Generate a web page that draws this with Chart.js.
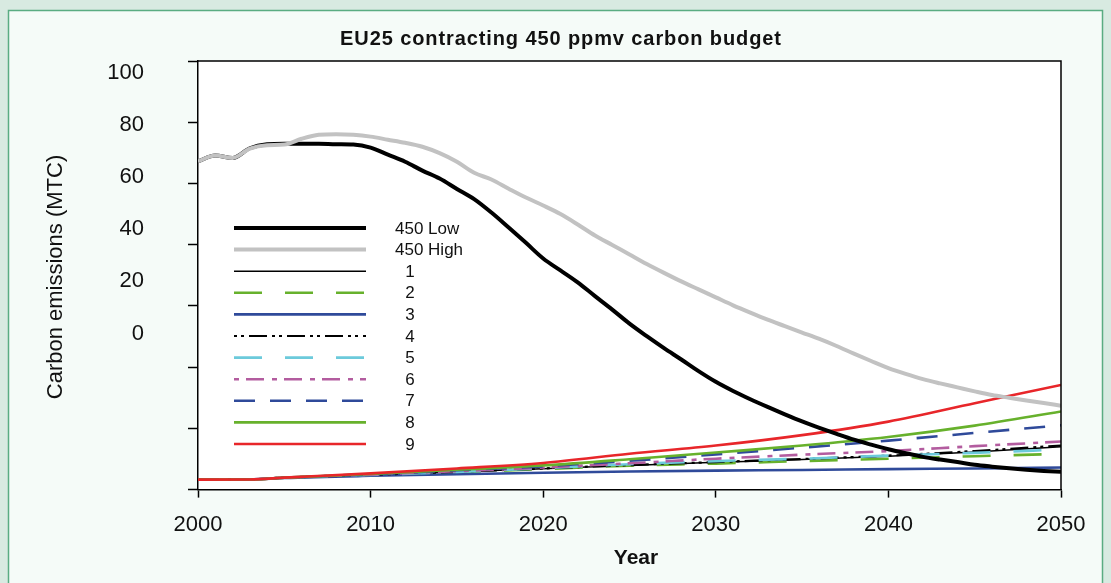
<!DOCTYPE html>
<html>
<head>
<meta charset="utf-8">
<script src="https://cdn.jsdelivr.net/npm/chart.js@4/dist/chart.umd.min.js"></script>
<style>
  html, body { margin: 0; padding: 0; background: #d8eae1; }
  #wrap { width: 1111px; height: 583px; }
</style>
</head>
<body>
<div id="wrap"><canvas id="c" width="1111" height="583"></canvas></div>
<script>
// annual years for the two 450 ppmv envelopes
const years = [2000, 2001, 2002, 2003, 2004, 2005, 2006, 2007, 2008, 2009,
  2010, 2011, 2012, 2013, 2014, 2015, 2016, 2017, 2018, 2019,
  2020, 2021, 2022, 2023, 2024, 2025, 2026, 2027, 2028, 2029,
  2030, 2031, 2032, 2033, 2034, 2035, 2036, 2037, 2038, 2039,
  2040, 2041, 2042, 2043, 2044, 2045, 2046, 2047, 2048, 2049, 2050];

const low450 = [107.2, 109.1, 108.3, 111.5, 112.8, 113.0, 113.0, 113.0, 112.8, 112.7,
  111.7, 109.4, 107.1, 104.2, 101.6, 98.2, 94.9, 90.5, 85.6, 80.6,
  75.5, 71.6, 67.7, 63.2, 58.8, 54.2, 50.1, 46.2, 42.5, 38.7,
  35.2, 32.2, 29.5, 27.0, 24.6, 22.3, 20.2, 18.2, 16.3, 14.7,
  13.2, 11.9, 10.7, 9.8, 9.0, 8.1, 7.5, 7.0, 6.5, 6.1, 5.8];

const high450 = [107.2, 109.1, 108.3, 111.4, 112.5, 112.7, 114.6, 115.9, 116.1, 115.9,
  115.3, 114.3, 113.3, 112.0, 109.9, 107.1, 103.5, 101.3, 98.3, 95.4,
  92.8, 90.0, 86.6, 83.0, 79.9, 76.8, 73.7, 70.8, 68.0, 65.4,
  62.8, 60.2, 57.8, 55.5, 53.4, 51.3, 49.2, 46.9, 44.4, 42.0,
  39.7, 37.8, 36.1, 34.7, 33.4, 32.1, 30.9, 30.0, 29.1, 28.3, 27.4];

// scenario paths 1-9
const scenYears = [2000, 2003, 2005, 2010, 2015, 2020, 2025, 2030, 2035, 2040, 2045, 2050];
const scen1 = [3.26, 3.3, 3.9, 4.8, 5.8, 6.8, 7.9, 8.9, 9.8, 10.9, 12.3, 14.0];
const scen2 = [3.26, 3.3, 3.9, 4.7, 5.6, 6.7, 7.8, 8.5, 9.3, 10.1, 10.9, 11.7];
const scen3 = [3.26, 3.3, 3.8, 4.5, 5.0, 5.5, 5.9, 6.2, 6.4, 6.7, 6.9, 7.2];
const scen4 = [3.26, 3.3, 3.9, 4.8, 5.8, 6.9, 8.0, 9.0, 10.0, 11.1, 12.6, 14.4];
const scen5 = [3.26, 3.3, 3.9, 4.8, 5.8, 7.0, 8.3, 9.3, 10.1, 11.1, 12.0, 13.1];
const scen6 = [3.26, 3.3, 3.9, 4.9, 6.0, 7.2, 8.6, 10.1, 11.4, 12.6, 14.2, 15.7];
const scen7 = [3.26, 3.3, 3.9, 5.0, 6.3, 7.6, 9.4, 11.5, 13.7, 16.0, 18.5, 21.0];
const scen8 = [3.26, 3.3, 3.9, 5.1, 6.5, 7.9, 9.9, 12.1, 14.4, 17.2, 20.9, 25.5];
const scen9 = [3.26, 3.3, 3.9, 5.3, 6.9, 8.7, 11.7, 14.4, 17.8, 22.2, 28.2, 34.2];

const xTicks = [2000, 2010, 2020, 2030, 2040, 2050];
const yTickLabels = ['100', '80', '60', '40', '20', '0'];

const FONT = "'Liberation Sans', Arial, Helvetica, sans-serif";
const green = '#67b12c', navy = '#2f4a9a', cyan = '#6ccadb', pink = '#b35c9f', red = '#e8262a';

const pts = (xs, ys) => ys.map((v, i) => ({ x: xs[i], y: v }));

function line(label, xs, ys, color, width, dash, order) {
  return {
    label: label,
    data: pts(xs, ys),
    borderColor: color,
    backgroundColor: color,
    borderWidth: width,
    borderDash: dash || [],
    pointRadius: 0,
    cubicInterpolationMode: 'monotone',
    fill: false,
    order: order
  };
}

const datasets = [
  line('450 Low', years, low450, '#000000', 4, null, 1),
  line('450 High', years, high450, '#c2c2c2', 4, null, 0),
  line('1', scenYears, scen1, '#000000', 1.5, null, 10),
  line('2', scenYears, scen2, green, 2.6, [28, 23], 9),
  line('3', scenYears, scen3, navy, 2.6, null, 8),
  line('4', scenYears, scen4, '#000000', 2.2, [3, 4, 3, 5, 18, 5], 7),
  line('5', scenYears, scen5, cyan, 2.6, [28, 23], 6),
  line('6', scenYears, scen6, pink, 2.6, [5, 7, 18, 8], 5),
  line('7', scenYears, scen7, navy, 2.6, [21, 15], 4),
  line('8', scenYears, scen8, green, 2.6, null, 3),
  line('9', scenYears, scen9, red, 2.6, null, 2)
];

// page frame, panel and white plot area
const framePlugin = {
  id: 'frame',
  beforeDraw(chart) {
    const ctx = chart.ctx, a = chart.chartArea;
    ctx.save();
    ctx.fillStyle = '#d8eae1';
    ctx.fillRect(0, 0, chart.width, chart.height);
    ctx.fillStyle = '#f5fbf8';
    ctx.fillRect(8.5, 10.5, 1094, 600);
    ctx.strokeStyle = '#5aac82';
    ctx.lineWidth = 1.5;
    ctx.strokeRect(8.5, 10.5, 1094, 600);
    ctx.fillStyle = '#ffffff';
    ctx.fillRect(a.left, a.top, a.right - a.left, a.bottom - a.top);
    ctx.restore();
  },
  afterDraw(chart) {
    const ctx = chart.ctx, a = chart.chartArea;
    ctx.save();
    ctx.strokeStyle = '#000';
    ctx.lineWidth = 1.5;
    ctx.beginPath();
    ctx.moveTo(a.left, a.top);
    ctx.lineTo(a.right, a.top);
    ctx.lineTo(a.right, a.bottom);
    ctx.stroke();
    ctx.restore();
  }
};

// titles, the (offset) y labels of the original, and the in-plot legend
const textPlugin = {
  id: 'texts',
  afterDraw(chart) {
    const ctx = chart.ctx, a = chart.chartArea;
    ctx.save();
    ctx.fillStyle = '#111';
    ctx.textAlign = 'center';
    ctx.textBaseline = 'middle';
    ctx.font = 'bold 20px ' + FONT;
    ctx.letterSpacing = '0.9px';
    ctx.fillText('EU25 contracting 450 ppmv carbon budget', 561, 39);
    ctx.letterSpacing = '0px';
    ctx.font = 'bold 21px ' + FONT;
    ctx.fillText('Year', 636, 558);

    ctx.save();
    ctx.translate(56, 277);
    ctx.rotate(-Math.PI / 2);
    ctx.font = '22px ' + FONT;
    ctx.fillText('Carbon emissions (MTC)', 0, 0);
    ctx.restore();

    ctx.textAlign = 'right';
    ctx.font = '22px ' + FONT;
    yTickLabels.forEach((t, i) => ctx.fillText(t, 144, a.top + 12 + i * 52.1));

    // legend
    const x0 = a.left + 36, x1 = a.left + 168;
    chart.data.datasets.forEach((ds, i) => {
      const y = a.top + 167 + i * 21.6;
      ctx.strokeStyle = ds.borderColor;
      ctx.lineWidth = ds.borderWidth;
      ctx.setLineDash(ds.borderDash);
      ctx.beginPath();
      ctx.moveTo(x0, y);
      ctx.lineTo(x1, y);
      ctx.stroke();
      ctx.setLineDash([]);
      ctx.fillStyle = '#111';
      ctx.font = '17px ' + FONT;
      if (ds.label.length > 1) {
        ctx.textAlign = 'left';
        ctx.fillText(ds.label, a.left + 197, y + 1);
      } else {
        ctx.textAlign = 'center';
        ctx.fillText(ds.label, a.left + 212, y + 1);
      }
    });
    ctx.restore();
  }
};

new Chart(document.getElementById('c'), {
  type: 'line',
  data: { datasets: datasets },
  options: {
    responsive: false,
    animation: false,
    layout: { padding: { left: 188, right: 50, top: 61, bottom: 31 } },
    plugins: { legend: { display: false }, tooltip: { enabled: false } },
    scales: {
      x: {
        type: 'linear',
        min: 2000,
        max: 2050,
        afterBuildTicks: axis => { axis.ticks = xTicks.map(v => ({ value: v })); },
        ticks: {
          color: '#111',
          font: { family: FONT, size: 22 },
          padding: 14,
          maxRotation: 0,
          callback: v => String(v)
        },
        grid: { drawOnChartArea: false, drawTicks: true, tickLength: 8, tickColor: '#000', tickWidth: 1.5 },
        border: { color: '#000', width: 1.5 }
      },
      y: {
        min: 0,
        max: 140,
        ticks: { display: false, stepSize: 20 },
        grid: { drawOnChartArea: false, drawTicks: true, tickLength: 10, tickColor: '#000', tickWidth: 1.5 },
        border: { color: '#000', width: 1.5 }
      }
    }
  },
  plugins: [framePlugin, textPlugin]
});
</script>
</body>
</html>
